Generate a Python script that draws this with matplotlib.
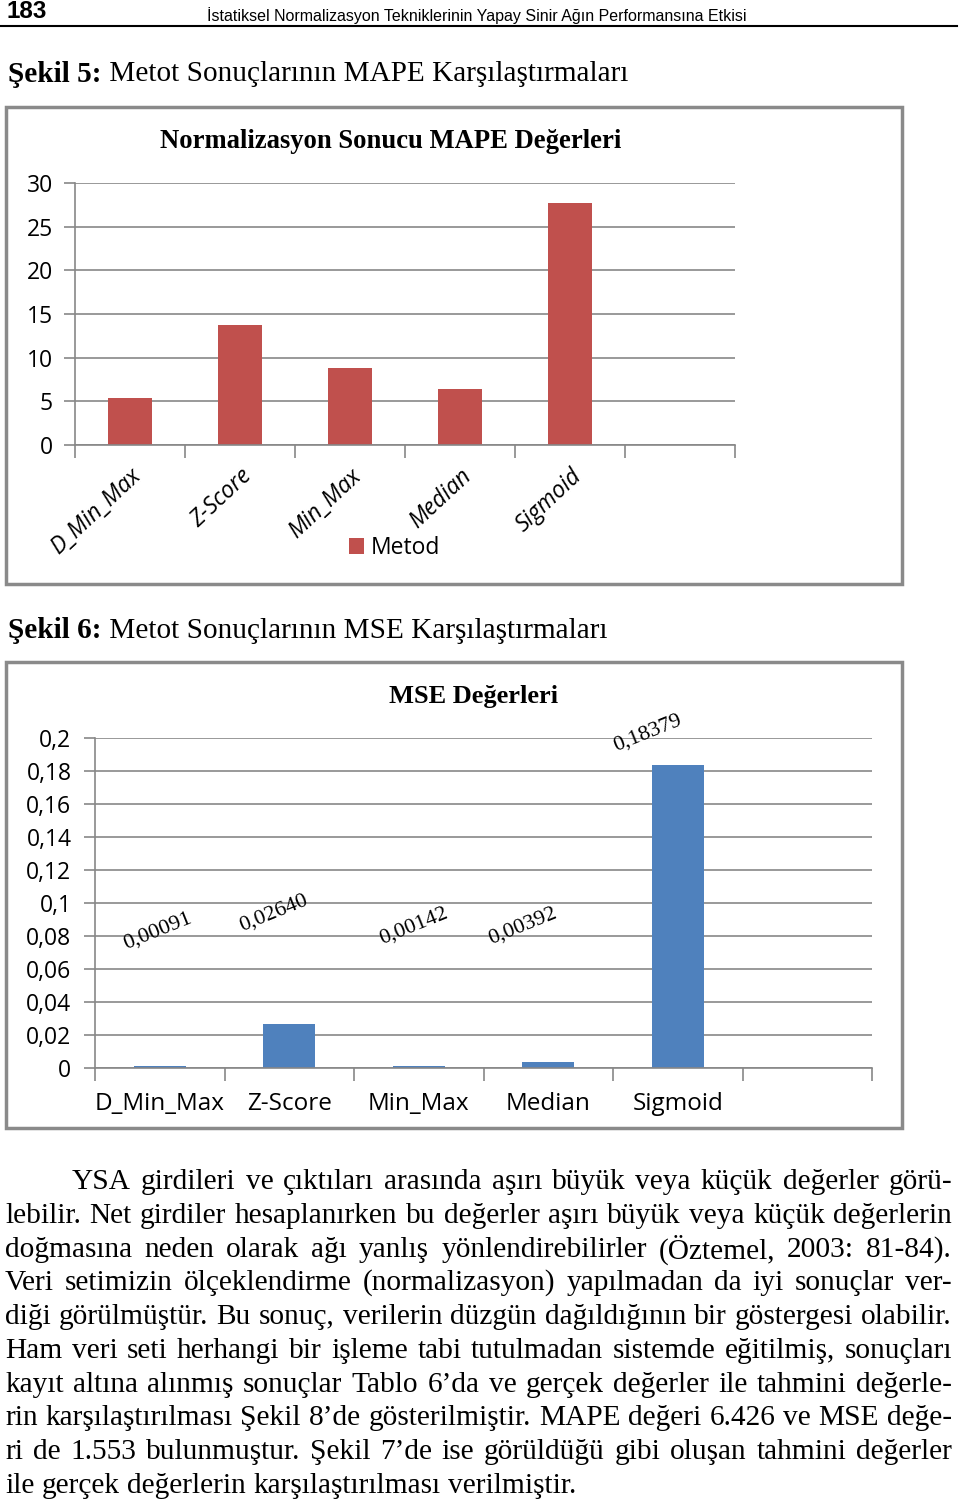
import matplotlib
matplotlib.use("Agg")
import matplotlib.pyplot as plt
from matplotlib.patches import Rectangle
from matplotlib.lines import Line2D

# --- data ---
methods = ['D_Min_Max', 'Z-Score', 'Min_Max', 'Median', 'Sigmoid']
mape_values = [5.4, 13.75, 8.85, 6.4, 27.75]
mse_values = [0.00091, 0.02640, 0.00142, 0.00392, 0.18379]
mse_labels = ['0,00091', '0,02640', '0,00142', '0,00392', '0,18379']
mape_ticks = [0, 5, 10, 15, 20, 25, 30]
mse_ticks = [0, 0.02, 0.04, 0.06, 0.08, 0.1, 0.12, 0.14, 0.16, 0.18, 0.2]
mse_tick_labels = ['0', '0,02', '0,04', '0,06', '0,08', '0,1', '0,12', '0,14',
                   '0,16', '0,18', '0,2']

header_text = 'İstatiksel Normalizasyon Tekniklerinin Yapay Sinir Ağın Performansına Etkisi'
caption5 = ('Şekil 5:', ' Metot Sonuçlarının MAPE Karşılaştırmaları')
caption6 = ('Şekil 6:', ' Metot Sonuçlarının MSE Karşılaştırmaları')
body_lines = [
    'YSA girdileri ve çıktıları arasında aşırı büyük veya küçük değerler görü-',
    'lebilir. Net girdiler hesaplanırken bu değerler aşırı büyük veya küçük değerlerin',
    'doğmasına neden olarak ağı yanlış yönlendirebilirler (Öztemel, 2003: 81-84).',
    'Veri setimizin ölçeklendirme (normalizasyon) yapılmadan da iyi sonuçlar ver-',
    'diği görülmüştür. Bu sonuç, verilerin düzgün dağıldığının bir göstergesi olabilir.',
    'Ham veri seti herhangi bir işleme tabi tutulmadan sistemde eğitilmiş, sonuçları',
    'kayıt altına alınmış sonuçlar Tablo 6’da ve gerçek değerler ile tahmini değerle-',
    'rin karşılaştırılması Şekil 8’de gösterilmiştir. MAPE değeri 6.426 ve MSE değe-',
    'ri de 1.553 bulunmuştur. Şekil 7’de ise görüldüğü gibi oluşan tahmini değerler',
    'ile gerçek değerlerin karşılaştırılması verilmiştir.',
]

RED = '#C0504D'
BLUE = '#4F81BD'
GRID = '#878787'
W, H = 960, 1504
SERIF = ['Liberation Serif', 'DejaVu Serif']
SANS = ['Open Sans', 'DejaVu Sans']
NARROW = ['Liberation Sans Narrow', 'Liberation Sans', 'DejaVu Sans']

fig = plt.figure(figsize=(W / 100, H / 100), dpi=100)
fig.patch.set_facecolor('white')
renderer = fig.canvas.get_renderer()


def fx(px):
    return px / W


def fy(py):
    return 1 - py / H


def text_width(t):
    return t.get_window_extent(renderer).width


def fit_text(x, y, s, width, **kw):
    t = fig.text(fx(x), fy(y), s, fontsize=10, va='center', **kw)
    t.set_fontsize(10 * width / text_width(t))
    return t


def add_axes_px(left, top, right, bottom):
    return fig.add_axes([fx(left), fy(bottom), fx(right - left), (bottom - top) / H])


def style_axes(ax, ncat, ypad):
    ax.set_xlim(-0.5, ncat - 0.5)
    for s in ['top', 'right']:
        ax.spines[s].set_visible(False)
    for s in ['left', 'bottom']:
        ax.spines[s].set_color(GRID)
        ax.spines[s].set_linewidth(1.2)
    ax.yaxis.grid(True, color=GRID, linewidth=1.2)
    ax.set_axisbelow(True)
    ax.set_xticks([i - 0.5 for i in range(ncat + 1)], minor=True)
    ax.tick_params(axis='x', which='minor', length=9, color=GRID, width=1.2)
    ax.tick_params(axis='x', which='major', length=0)
    ax.tick_params(axis='y', length=8, color=GRID, width=1.2, pad=ypad)


def frame(left, top, right, bottom):
    fig.add_artist(Rectangle((fx(left), fy(bottom)), fx(right - left), (bottom - top) / H,
                             transform=fig.transFigure, fill=False,
                             edgecolor='#8a8a8a', linewidth=2.5))


# --- page header ---
fig.text(fx(6), fy(11), '183', family=NARROW, fontweight='bold', fontsize=17.5, va='center')
fit_text(207, 16, header_text, 543, family=NARROW)
fig.add_artist(Line2D([0, fx(957)], [fy(26), fy(26)], transform=fig.transFigure,
                      color='black', linewidth=1.5))


def caption(y, parts, width):
    tb = fig.text(fx(8), fy(y), parts[0], family=SERIF, fontweight='bold', fontsize=10, va='center')
    tn = fig.text(0, fy(y), parts[1], family=SERIF, fontsize=10, va='center')
    total = text_width(tb) + text_width(tn)
    size = 10 * width / total
    tb.set_fontsize(size)
    tn.set_fontsize(size)
    tn.set_x(fx(8 + text_width(tb)))


caption(74, caption5, 622)
caption(631, caption6, 600)

# --- chart 1: MAPE ---
frame(6, 107, 902, 584)
fit_text(160, 141, 'Normalizasyon Sonucu MAPE Değerleri', 462, family=SERIF, fontweight='bold')
ncat = len(methods) + 1
ax1 = add_axes_px(75, 183, 735, 445)
bars1 = ax1.bar(range(len(methods)), mape_values, width=0.4, color=RED, label='Metod')
ax1.set_ylim(0, 30)
ax1.set_yticks(mape_ticks)
ax1.set_yticklabels([str(v) for v in mape_ticks], family=SANS, fontsize=16.5)
style_axes(ax1, ncat, 8)
ax1.set_xticks(range(len(methods)))
ax1.set_xticklabels(methods, family=SANS, fontsize=16.5, rotation=43,
                    ha='right', va='top', rotation_mode='anchor', style='italic')
ax1.tick_params(axis='x', which='major', pad=14)
leg = ax1.legend(loc='center', bbox_to_anchor=(fx(395), fy(548)),
                 bbox_transform=fig.transFigure, frameon=False,
                 prop={'family': SANS, 'size': 16.5}, handlelength=0.65, handleheight=0.65,
                 handletextpad=0.3)

# --- chart 2: MSE ---
frame(6, 662, 902, 1128)
fit_text(389, 696, 'MSE Değerleri', 170, family=SERIF, fontweight='bold')
ax2 = add_axes_px(95, 738, 872, 1068)
bars2 = ax2.bar(range(len(methods)), mse_values, width=0.4, color=BLUE)
ax2.set_ylim(0, 0.2)
ax2.set_yticks(mse_ticks)
ax2.set_yticklabels(mse_tick_labels, family=SANS, fontsize=16.5)
style_axes(ax2, ncat, 9)
ax2.set_xticks(range(len(methods)))
ax2.set_xticklabels(methods, family=SANS, fontsize=17.5)
ax2.tick_params(axis='x', which='major', pad=17)
# rotated value labels, placed where Excel left them
label_y = [0.083, 0.094, 0.086, 0.086, 0.203]
label_dx = [-0.02, -0.12, -0.04, -0.2, -0.23]
for i, (lab, ly) in enumerate(zip(mse_labels, label_y)):
    ax2.text(i + label_dx[i], ly, lab, family=SERIF, fontsize=16, rotation=22,
             ha='center', va='center')

# --- body text, justified ---
line_y = [1182, 1216, 1250, 1283, 1317, 1351, 1385, 1418, 1452, 1486]
probe = fig.text(0, 0, body_lines[-1], family=SERIF, fontsize=10)
body_size = 10 * 573 / text_width(probe)
probe.remove()
right_edge = 952
for n, (line, y) in enumerate(zip(body_lines, line_y)):
    x0 = 72 if n == 0 else 5
    words = line.split(' ')
    texts = [fig.text(0, fy(y), w, family=SERIF, fontsize=body_size, va='center')
             for w in words]
    widths = [text_width(t) for t in texts]
    if n < len(body_lines) - 1:
        gap = (right_edge - x0 - sum(widths)) / (len(words) - 1)
    else:
        gap = body_size * 0.25 * 100 / 72
    x = x0
    for t, w in zip(texts, widths):
        t.set_x(fx(x))
        x += w + gap

fig.savefig('out.png', dpi=100, facecolor='white')
